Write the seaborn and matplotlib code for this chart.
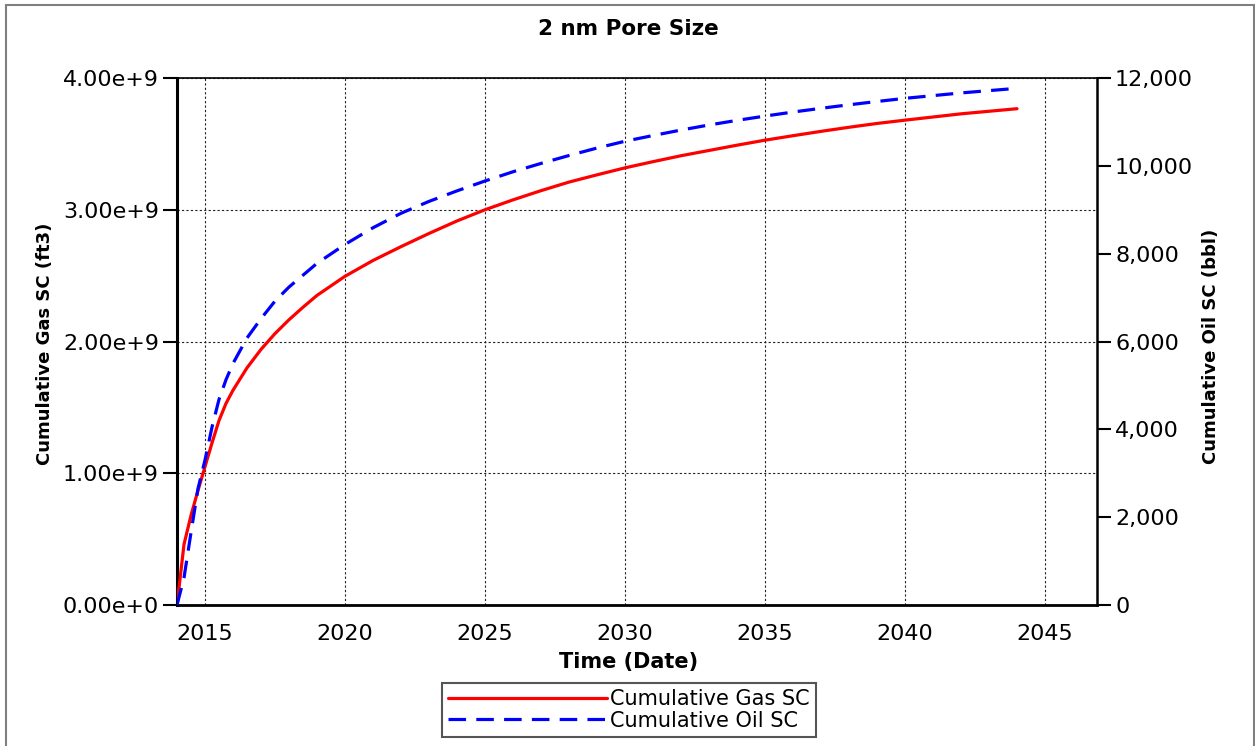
import matplotlib
matplotlib.use("Agg")
import matplotlib.pyplot as plt
from matplotlib.patches import Rectangle
from matplotlib.ticker import FixedLocator, FuncFormatter
import pandas as pd
import seaborn as sns

# Simulation output: cumulative production vs. time (decimal year)
gas_years = [2014.0, 2014.25, 2014.5, 2014.75, 2015.0, 2015.25, 2015.5, 2015.75,
             2016.0, 2016.5, 2017.0, 2017.5, 2018.0, 2018.5, 2019.0, 2020.0,
             2021.0, 2022.0, 2023.0, 2024.0, 2025.0, 2026.0, 2027.0, 2028.0,
             2029.0, 2030.0, 2031.0, 2032.0, 2033.0, 2034.0, 2035.0, 2036.0,
             2037.0, 2038.0, 2039.0, 2040.0, 2042.0, 2044.0]
gas_cum_ft3 = [0.00e9, 0.46e9, 0.68e9, 0.87e9, 1.05e9, 1.23e9, 1.40e9, 1.53e9,
               1.63e9, 1.80e9, 1.94e9, 2.06e9, 2.165e9, 2.26e9, 2.35e9, 2.495e9,
               2.615e9, 2.72e9, 2.82e9, 2.915e9, 3.00e9, 3.075e9, 3.145e9, 3.21e9,
               3.265e9, 3.318e9, 3.365e9, 3.41e9, 3.45e9, 3.49e9, 3.528e9, 3.562e9,
               3.595e9, 3.626e9, 3.655e9, 3.68e9, 3.728e9, 3.767e9]

oil_years = [2014.0, 2014.25, 2014.5, 2014.75, 2015.0, 2015.25, 2015.5, 2015.75,
             2016.0, 2016.5, 2017.0, 2017.5, 2018.0, 2018.5, 2019.0, 2020.0,
             2021.0, 2022.0, 2023.0, 2024.0, 2025.0, 2026.0, 2027.0, 2028.0,
             2029.0, 2030.0, 2031.0, 2032.0, 2033.0, 2034.0, 2035.0, 2036.0,
             2037.0, 2038.0, 2039.0, 2040.0, 2042.0, 2044.0]
oil_cum_bbl = [0, 620, 1650, 2650, 3300, 4050, 4680, 5130,
               5500, 6080, 6520, 6920, 7240, 7510, 7780, 8210,
               8590, 8920, 9190, 9430, 9655, 9865, 10055, 10235,
               10405, 10560, 10690, 10815, 10930, 11035, 11133, 11225,
               11310, 11390, 11465, 11537, 11660, 11765]

gas_ticks = [0, 1e9, 2e9, 3e9, 4e9]
oil_ticks = [0, 2000, 4000, 6000, 8000, 10000, 12000]
year_ticks = [2015, 2020, 2025, 2030, 2035, 2040, 2045]

gas_df = pd.DataFrame({"year": gas_years, "gas": gas_cum_ft3})
oil_df = pd.DataFrame({"year": oil_years, "oil": oil_cum_bbl})

sns.set_style("white")
plt.rcParams["font.family"] = ["DejaVu Sans"]
plt.rcParams["text.color"] = "black"
plt.rcParams["axes.labelcolor"] = "black"

fig = plt.figure(figsize=(12.55, 7.46), dpi=100)
ax = fig.add_axes([177 / 1255, 1 - 605 / 746, 920 / 1255, 527 / 746])
ax2 = ax.twinx()

sns.lineplot(data=gas_df, x="year", y="gas", ax=ax, color="#ff0000",
             lw=2.3, label="Cumulative Gas SC", legend=False, zorder=3)
sns.lineplot(data=oil_df, x="year", y="oil", ax=ax2, color="#0000ff",
             lw=2.3, label="Cumulative Oil SC", legend=False, zorder=3)
ax2.lines[0].set_dashes((5.5, 3.2))

ax.set_xlim(2014.0, 2046.857)
ax.set_ylim(0, 4e9)
ax2.set_ylim(0, 12000)

ax.xaxis.set_major_locator(FixedLocator(year_ticks))
ax.yaxis.set_major_locator(FixedLocator(gas_ticks))
ax2.yaxis.set_major_locator(FixedLocator(oil_ticks))
ax.xaxis.set_major_formatter(FuncFormatter(lambda v, p: f"{int(round(v))}"))
ax.yaxis.set_major_formatter(
    FuncFormatter(lambda v, p: "0.00e+0" if v == 0 else f"{v / 1e9:.2f}e+9"))
ax2.yaxis.set_major_formatter(FuncFormatter(lambda v, p: f"{int(v):,}"))

# dotted grid: vertical at year ticks, horizontal at gas ticks only
ax.grid(True, which="major", color="#222222", linestyle=(0, (2, 2)), lw=0.8)
ax2.grid(False)
ax.set_axisbelow(True)

for a in (ax, ax2):
    a.tick_params(axis="both", direction="out", length=10, width=1.5,
                  labelsize=16, colors="black", pad=3)
ax.tick_params(axis="x", pad=4)

for s in ax.spines.values():
    s.set_color("black")
ax.spines["left"].set_linewidth(2.2)
ax.spines["bottom"].set_linewidth(2.0)
ax.spines["top"].set_linewidth(1.2)
ax.spines["right"].set_visible(False)
for name, s in ax2.spines.items():
    s.set_visible(name == "right")
ax2.spines["right"].set_linewidth(1.8)
ax2.spines["right"].set_color("black")

ax.set_xlabel("Time (Date)", fontsize=15, fontweight="bold", color="black")
ax.xaxis.set_label_coords((629 - 177) / 920, (605 - 662) / 527)
ax.xaxis.label.set_va("center")

ax.set_ylabel("Cumulative Gas SC (ft3)", fontsize=13, fontweight="bold",
              color="black")
ax.yaxis.set_label_coords((45 - 177) / 920, (605 - 344) / 527)
ax.yaxis.label.set_va("center")

ax2.set_ylabel("Cumulative Oil SC (bbl)", fontsize=13, fontweight="bold",
               rotation=90, color="black")
ax2.yaxis.set_label_coords((1211 - 177) / 920, (605 - 346) / 527)
ax2.yaxis.label.set_va("center")
ax2.yaxis.label.set_ha("center")

fig.text(628.7 / 1255, 1 - 29 / 746, "2 nm Pore Size", ha="center",
         va="center", fontsize=15.5, fontweight="bold", color="black")

handles = ax.get_lines()[:1] + ax2.get_lines()[:1]
leg = fig.legend(handles, ["Cumulative Gas SC", "Cumulative Oil SC"],
                 loc="center", bbox_to_anchor=(629 / 1255, 1 - 710 / 746),
                 bbox_transform=fig.transFigure, fontsize=15,
                 handlelength=7.6, handletextpad=0.15, labelspacing=0.05,
                 borderpad=0.3, borderaxespad=0, fancybox=False,
                 framealpha=1, edgecolor="#555555", labelcolor="black")
leg.get_frame().set_linewidth(1.5)

# outer figure frame
fig.patches.append(Rectangle((5.5 / 1255, -0.01), 1248 / 1255, 1 - 4.5 / 746 + 0.01,
                             transform=fig.transFigure, fill=False,
                             edgecolor="#7f7f7f", lw=1.5, zorder=0))

fig.savefig("out.png", dpi=100)
